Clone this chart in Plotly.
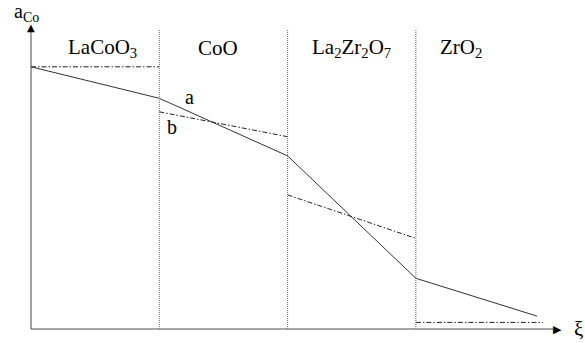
import plotly.graph_objects as go

# ---- data (reaction coordinate xi in phase-widths, cobalt activity in arbitrary units) ----
phases = ["LaCoO<sub>3</sub>", "CoO", "La<sub>2</sub>Zr<sub>2</sub>O<sub>7</sub>", "ZrO<sub>2</sub>"]
boundaries = [1, 2, 3]

xi_a = [0, 1, 2, 3, 3.944]
act_a = [8.74, 7.69, 5.77, 1.69, 0.43]

xi_b = [0, 1, None, 1, 2, None, 2, 3, None, 3, 3.99]
act_b = [8.74, 8.74, None, 7.24, 6.41, None, 4.47, 3.02, None, 0.22, 0.22]

FONT = "Liberation Serif"
PX_X = 128.3   # pixels per xi unit
PX_Y = 30.0    # pixels per activity unit
XI_TIP = 4.139  # tip of the xi-axis arrow
A_TIP = 10.17   # tip of the activity-axis arrow

fig = go.Figure()
fig.add_trace(go.Scatter(x=xi_a, y=act_a, mode="lines",
                         line=dict(color="#333333", width=1), hoverinfo="skip"))
fig.add_trace(go.Scatter(x=xi_b, y=act_b, mode="lines", connectgaps=False,
                         line=dict(color="#222222", width=1, dash="5px,2px,1.5px,2px"),
                         hoverinfo="skip"))

shapes = []
for b in boundaries:
    shapes.append(dict(type="line", xref="x", yref="y", x0=b, x1=b, y0=0, y1=10,
                       line=dict(color="#666666", width=1, dash="1px,1px")))
# axis lines
xl = XI_TIP - 9 / PX_X
yl = A_TIP - 7 / PX_Y
shapes.append(dict(type="line", xref="x", yref="y", x0=0, x1=xl, y0=0, y1=0,
                   line=dict(color="#888888", width=1.6)))
shapes.append(dict(type="line", xref="x", yref="y", x0=0, x1=0, y0=0, y1=yl,
                   line=dict(color="#444444", width=1)))

ann = []
# arrowheads as glyphs
ann.append(dict(x=XI_TIP - 5 / PX_X, y=0.0, xref="x", yref="y", text="▶", showarrow=False,
                font=dict(family="DejaVu Sans", size=11, color="black"),
                xanchor="center", yanchor="middle"))
ann.append(dict(x=0, y=A_TIP - 4 / PX_Y, xref="x", yref="y", text="▲", showarrow=False,
                font=dict(family="DejaVu Sans", size=10, color="black"),
                xanchor="center", yanchor="middle"))

label_x = [0.56, 1.454, 2.495, 3.35]
for name, lx in zip(phases, label_x):
    ann.append(dict(x=lx, y=9.37, xref="x", yref="y", text=name, showarrow=False,
                    font=dict(family=FONT, size=21, color="black"),
                    xanchor="center", yanchor="middle"))

ann.append(dict(x=-0.152, y=10.55, xref="x", yref="y", text="a<sub>Co</sub>", showarrow=False,
                font=dict(family=FONT, size=20, color="black"), xanchor="left", yanchor="middle"))
ann.append(dict(x=4.27, y=0, xref="x", yref="y", text="ξ", showarrow=False,
                font=dict(family=FONT, size=21, color="black"), xanchor="center", yanchor="middle"))
ann.append(dict(x=1.235, y=7.75, xref="x", yref="y", text="a", showarrow=False,
                font=dict(family=FONT, size=20, color="black"), xanchor="center", yanchor="middle"))
ann.append(dict(x=1.099, y=6.72, xref="x", yref="y", text="b", showarrow=False,
                font=dict(family=FONT, size=20, color="black"), xanchor="center", yanchor="middle"))

fig.update_layout(
    width=585, height=343,
    margin=dict(l=0, r=0, t=0, b=0, pad=0),
    paper_bgcolor="white", plot_bgcolor="white",
    showlegend=False,
    shapes=shapes, annotations=ann,
    xaxis=dict(range=[-31 / PX_X, 554 / PX_X], visible=False, fixedrange=True),
    yaxis=dict(range=[-14 / PX_Y, 329 / PX_Y], visible=False, fixedrange=True),
)

fig.write_html("out.html", config={"displayModeBar": False},
               post_script="document.body.style.margin='0px';document.body.style.overflow='hidden';")
